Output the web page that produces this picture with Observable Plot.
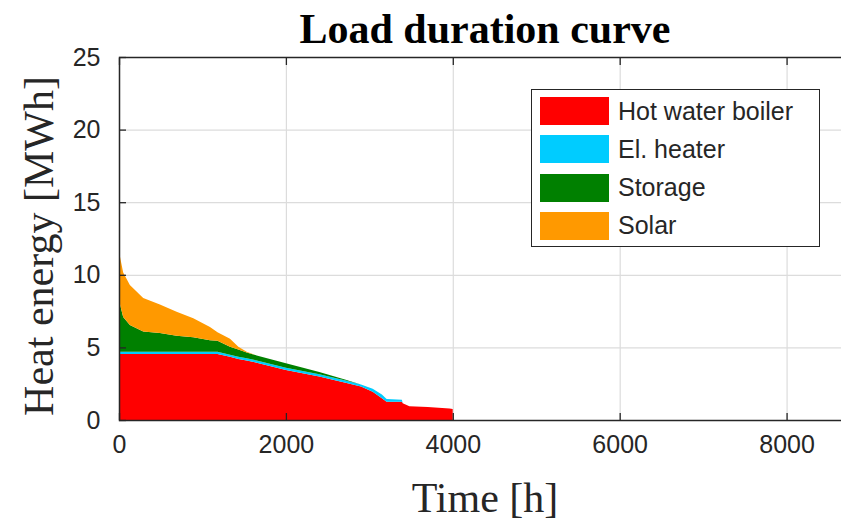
<!DOCTYPE html>
<html>
<head>
<meta charset="utf-8">
<script src="https://cdn.jsdelivr.net/npm/d3@7"></script>
<script src="https://cdn.jsdelivr.net/npm/@observablehq/plot@0.6"></script>
<style>
  html, body { margin: 0; padding: 0; background: #fff; overflow: hidden; }
  #wrap { position: relative; width: 841px; height: 525px; overflow: hidden; }
  #chart svg { max-width: none !important; }
  #legend { position: absolute; left: 531px; top: 89px; width: 289px; height: 158px;
    border: 1.5px solid #262626; background: #fff; box-sizing: border-box;
    font-family: "Liberation Sans", Arial, sans-serif; font-size: 25px; color: #262626; }
  .row { position: absolute; left: 8px; height: 28px; display: flex; align-items: center; }
  .sw { width: 69px; height: 28px; margin-right: 9px; }
</style>
</head>
<body>
<div id="wrap"><div id="chart"></div><div id="legend"></div></div>
<script>
const title = "Load duration curve";
const xLabel = "Time [h]";
const yLabel = "Heat energy [MWh]";
const seriesNames = ["Hot water boiler", "El. heater", "Storage", "Solar"];
const seriesColors = ["#ff0000", "#00ccff", "#008000", "#ff9900"];
const xTicks = [0, 2000, 4000, 6000, 8000];
const yTicks = [0, 5, 10, 15, 20, 25];

const hours   = [0, 10, 50, 130, 290, 490, 690, 890, 1090, 1180, 1330, 1430, 1530, 1650, 2000, 2400, 2727, 2900, 3040, 3150, 3207, 3390, 3400, 3480, 3700, 3960, 3999, 4000];
const boiler  = [4.55, 4.55, 4.55, 4.55, 4.55, 4.55, 4.55, 4.55, 4.55, 4.55, 4.35, 4.2, 4.1, 3.95, 3.45, 3.0, 2.55, 2.3, 1.95, 1.5, 1.25, 1.25, 1.15, 0.95, 0.9, 0.8, 0.75, 0];
const heater  = [0.15, 0.15, 0.15, 0.15, 0.15, 0.15, 0.15, 0.15, 0.15, 0.15, 0.15, 0.15, 0.15, 0.15, 0.15, 0.15, 0.15, 0.15, 0.2, 0.25, 0.2, 0.15, 0, 0, 0, 0, 0, 0];
const storage = [3.7, 3.3, 2.4, 1.85, 1.4, 1.3, 1.1, 1.0, 0.8, 0.75, 0.55, 0.5, 0.4, 0.35, 0.3, 0.15, 0.05, 0, 0, 0, 0, 0, 0, 0, 0, 0, 0, 0];
const solar   = [5.4, 3.3, 3.05, 2.75, 2.3, 1.95, 1.65, 1.3, 0.9, 0.6, 0.55, 0.2, 0.05, 0, 0, 0, 0, 0, 0, 0, 0, 0, 0, 0, 0, 0, 0, 0];

const layers = [boiler, heater, storage, solar];
const rows = [];
layers.forEach((vals, s) => hours.forEach((t, i) => rows.push({t, v: vals[i], series: seriesNames[s]})));

const ink = "#262626";
const serif = "'Liberation Serif', 'Times New Roman', serif";
const plot = Plot.plot({
  width: 851, height: 525,
  marginLeft: 119, marginRight: 1, marginTop: 57, marginBottom: 105,
  style: {fontFamily: "'Liberation Sans', Arial, sans-serif", fontSize: "25px", color: ink, background: "#fff", maxWidth: "none"},
  x: {domain: [0, 8760]},
  y: {domain: [0, 25]},
  color: {domain: seriesNames, range: seriesColors},
  marks: [
    Plot.gridX(xTicks, {stroke: "#dcdcdc", strokeOpacity: 1, strokeWidth: 1.2}),
    Plot.gridY(yTicks, {stroke: "#dcdcdc", strokeOpacity: 1, strokeWidth: 1.2}),
    Plot.areaY(rows, {x: "t", y: "v", fill: "series", z: "series"}),
    Plot.frame({stroke: ink, strokeWidth: 1.5}),
    Plot.axisX(xTicks, {anchor: "bottom", tickSize: -7, tickPadding: 22, tickFormat: d3.format("d"), label: null, stroke: ink, fill: ink, strokeWidth: 1.3}),
    Plot.axisX(xTicks, {anchor: "top", tickSize: -7, tickFormat: () => "", label: null, stroke: ink, strokeWidth: 1.3}),
    Plot.axisY(yTicks, {anchor: "left", tickSize: -7, tickPadding: 26, label: null, stroke: ink, fill: ink, strokeWidth: 1.3}),
    Plot.text([title], {frameAnchor: "top", dy: -28, textAnchor: "middle", lineAnchor: "middle", text: d => d, fontFamily: serif, fontWeight: "bold", fontSize: 42, fill: "#000"}),
    Plot.text([xLabel], {frameAnchor: "bottom", dy: 78, textAnchor: "middle", lineAnchor: "middle", text: d => d, fontFamily: serif, fontSize: 42, fill: ink}),
    Plot.text([yLabel], {frameAnchor: "left", dx: -80, dy: 7, rotate: -90, textAnchor: "middle", lineAnchor: "middle", text: d => d, fontFamily: serif, fontSize: 42, fill: ink})
  ]
});
document.getElementById("chart").appendChild(plot);

const legend = document.getElementById("legend");
seriesNames.forEach((name, i) => {
  const row = document.createElement("div");
  row.className = "row";
  row.style.top = (7 + i * 38.3) + "px";
  const sw = document.createElement("div");
  sw.className = "sw";
  sw.style.background = seriesColors[i];
  const lab = document.createElement("span");
  lab.textContent = name;
  row.appendChild(sw); row.appendChild(lab);
  legend.appendChild(row);
});
</script>
</body>
</html>
